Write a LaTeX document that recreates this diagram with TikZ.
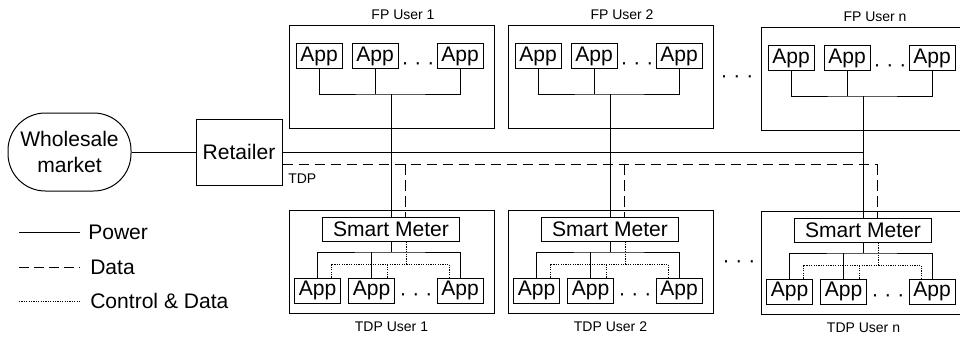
\documentclass[tikz,border=0pt]{standalone}
\usepackage{fontspec}
\setmainfont{Liberation Sans}
\usetikzlibrary{calc}
\begin{document}
\begin{tikzpicture}[x=0.75pt,y=-0.75pt,
  lw/.style={line width=0.75pt},
  power/.style={lw},
  data/.style={lw, dash pattern=on 8pt off 4pt},
  ctrl/.style={lw, dash pattern=on 0.9pt off 0.9pt},
  bigfont/.style={font=\fontsize{15.8}{19.5}\selectfont},
  smallfont/.style={font=\fontsize{10.5}{12}\selectfont},
  box/.style={draw, lw, inner sep=0pt},
  appbox/.style={box, bigfont, minimum width=46*0.75pt, minimum height=25*0.75pt},
  userbox/.style={box, minimum width=205*0.75pt, minimum height=103*0.75pt},
  meterbox/.style={box, bigfont, minimum width=137*0.75pt, minimum height=24*0.75pt},
  dotsnode/.style={bigfont, inner sep=0pt, anchor=base},
  legtext/.style={bigfont, inner sep=0pt, anchor=west},
]
\useasboundingbox (0,0) rectangle (960,339);
\clip (0,0) rectangle (960,339);

% market and retailer
\node[box, bigfont, rounded corners=28pt, align=center,
      minimum width=123*0.75pt, minimum height=78*0.75pt] (wm) at (69.5,152) {Wholesale\\market};
\node[box, bigfont, minimum width=86*0.75pt, minimum height=66*0.75pt] (ret) at (239,152) {Retailer};
\draw[power] (wm) -- (ret);
\node[smallfont, anchor=west, inner sep=0pt] (tdptxt) at (288,179) {TDP};

% users
\foreach \u/\L/\T/\Tb in {1/289/25/210, 2/508/25/210, n/761/27/211}{
  % FP user
  \node[userbox] (fp\u) at (\L+102.5,\T+51.5) {};
  \node[smallfont] (fpl\u) at (\L+114,\T-10) {FP User \u};
  \node[appbox] (fa1\u) at (\L+30,\T+31) {App};
  \node[appbox] (fa2\u) at (\L+86,\T+31) {App};
  \node[appbox] (fa3\u) at (\L+171,\T+31) {App};
  \node[dotsnode] (fd\u) at (\L+129,\T+44) {· · ·};
  \coordinate (fj\u) at (\L+102,\T+69);
  \draw[power] (fa1\u.south) |- (fj\u) -| (fa3\u.south);
  \draw[power] (fa2\u.south) -- (fa2\u.south |- fj\u);
  % TDP user
  \node[userbox] (tdp\u) at (\L+102.5,\Tb+51.5) {};
  \node[smallfont] (tdpl\u) at (\L+102.5,\Tb+117) {TDP User \u};
  \node[meterbox] (sm\u) at (\L+102,\Tb+19) {Smart Meter};
  \node[appbox] (ta1\u) at (\L+28.5,\Tb+80.5) {App};
  \node[appbox] (ta2\u) at (\L+82.5,\Tb+80.5) {App};
  \node[appbox] (ta3\u) at (\L+171,\Tb+80.5) {App};
  \node[dotsnode] (td\u) at (\L+127,\Tb+90) {· · ·};
  \coordinate (tj\u) at (\L+102,\Tb+42);
  \draw[power] (sm\u.south) -- (tj\u);
  \draw[power] (ta1\u.north) |- (tj\u) -| (ta3\u.north);
  \draw[power] (ta2\u.north) -- (ta2\u.north |- tj\u);
  \coordinate (dj\u) at (\L+117,\Tb+54);
  \draw[ctrl] (sm\u.south -| dj\u) -- (dj\u);
  \draw[ctrl] ($(ta1\u.north)+(13.5,0)$) |- (dj\u) -| ($(ta3\u.north)+(-11,0)$);
  \draw[ctrl] ($(ta2\u.north)+(15.5,0)$) -- ($(ta2\u.north |- dj\u)+(15.5,0)$);
  % power feed from FP tree to smart meter
  \draw[power] (fj\u) -- (sm\u.north);
  % data drop
  \coordinate (dd\u) at (\L+116.5,164);
  \draw[data] (dd\u) -- (sm\u.north -| dd\u);
}

% buses
\draw[power] (ret.east) -- (ret.east -| fjn);
\draw[data] ($(ret.east)+(0,12)$) -- (ddn);

% dots between users
\node[dotsnode] (fpdots) at (737,82) {· · ·};
\node[dotsnode] (tdpdots) at (739,267) {· · ·};

% legend
\node[legtext] (lpow) at (88,232) {Power};
\node[legtext] (ldat) at (90,267) {Data};
\node[legtext] (lctl) at (90,301) {Control \& Data};
\coordinate (lp) at (19,232);
\coordinate (ld) at (19,267);
\coordinate (lc) at (19,301);
\draw[power] (lp) -- ($(lpow.west)+(-8,0)$);
\draw[data, dash pattern=on 7.5pt off 3.75pt] (ld) -- ($(ldat.west)+(-10,0)$);
\draw[ctrl] (lc) -- ($(lctl.west)+(-10,0)$);
\end{tikzpicture}
\end{document}
